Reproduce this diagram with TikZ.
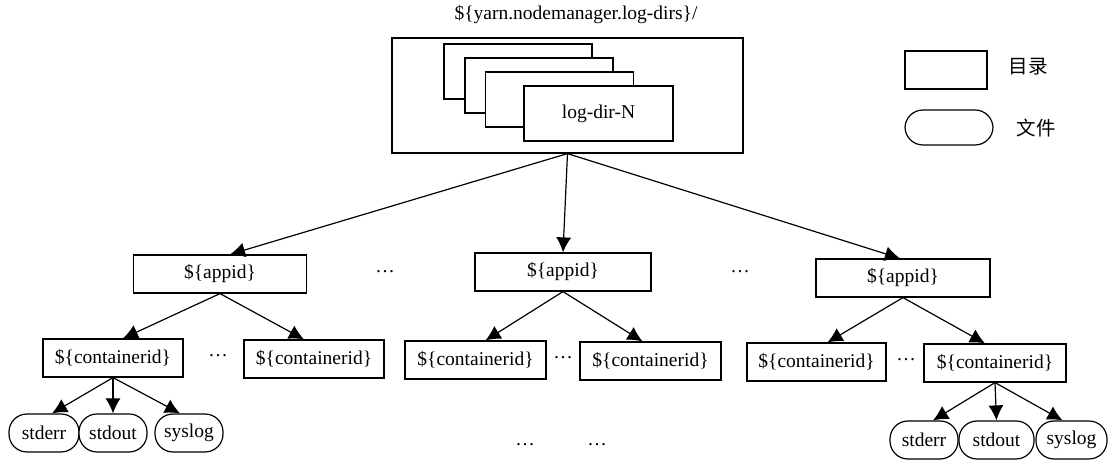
\documentclass[tikz,border=0pt]{standalone}
\usepackage{fontspec}
\setmainfont{Liberation Serif}
\newfontfamily\cjk{Noto Sans CJK SC}
\usetikzlibrary{arrows.meta}

\begin{document}
\begin{tikzpicture}[x=0.5pt,y=-0.5pt,
    font=\fontsize{9.75}{12}\selectfont,
    dirbox/.style={draw,line width=0.6pt,fill=white,inner sep=0pt,minimum height=19pt},
    filebox/.style={draw,line width=0.6pt,fill=white,inner sep=0pt,minimum height=19pt,
      minimum width=35pt,rounded corners=9pt},
    link/.style={line width=0.6pt,-{Latex[length=7.5pt,width=7.5pt]}}]
      \useasboundingbox (0,0) rectangle (1115,469);
      % Root directory
      \node (title) at (576,15) {\$\{yarn.nodemanager.log-dirs\}/};
      \node[dirbox,minimum width=175.5pt,minimum height=57.5pt] (root) at (567.5,95.5) {};
      \node[dirbox,minimum width=74pt,minimum height=27.5pt] (ld1) at (518,71.5) {};
      \node[dirbox,minimum width=74pt,minimum height=27.5pt] (ld2) at (539,85.5) {};
      \node[dirbox,minimum width=74pt,minimum height=27.5pt] (ld3) at (559.5,99.5) {};
      \node[dirbox,minimum width=74.5pt,minimum height=27.5pt] (ldN) at (598.5,113.5) {log-dir-N};
      % Legend
      \node[dirbox,minimum width=41pt] (legdir) at (946,70) {};
      \node[filebox,minimum width=44pt,minimum height=17.5pt] (legfile) at (949,127.5) {};
      \node (legdirtext) at (1028,67) {\cjk 目录};
      \node (legfiletext) at (1036,128) {\cjk 文件};
      % Application directories
      \node[dirbox,minimum width=86.5pt] (app1) at (220,274) {\$\{appid\}};
      \node[dirbox,minimum width=88pt] (app2) at (563,272) {\$\{appid\}};
      \node[dirbox,minimum width=87pt] (app3) at (903,278) {\$\{appid\}};
      \node (appdots1) at (385,272) {\dots};
      \node (appdots2) at (740,272) {\dots};
      % Container directories
      \node[dirbox,minimum width=70pt] (cont1) at (113,358) {\$\{containerid\}};
      \node[dirbox,minimum width=70pt] (cont2) at (314,359) {\$\{containerid\}};
      \node[dirbox,minimum width=70.5pt] (cont3) at (475.5,360) {\$\{containerid\}};
      \node[dirbox,minimum width=70.5pt] (cont4) at (650.5,361) {\$\{containerid\}};
      \node[dirbox,minimum width=69.5pt] (cont5) at (816.5,362) {\$\{containerid\}};
      \node[dirbox,minimum width=71pt] (cont6) at (995,363) {\$\{containerid\}};
      \node (contdots1) at (218,356) {\dots};
      \node (contdots2) at (563,358) {\dots};
      \node (contdots3) at (906,360) {\dots};
      % Log files
      \node[filebox] (err1) at (44,433) {stderr};
      \node[filebox,minimum width=34pt] (out1) at (113,433) {stdout};
      \node[filebox,minimum width=34pt] (sys1) at (189,433) {syslog};
      \node[filebox,minimum width=34pt] (err6) at (924,440) {stderr};
      \node[filebox,minimum width=37.5pt] (out6) at (996.5,440) {stdout};
      \node[filebox,minimum width=35.5pt] (sys6) at (1071.5,440) {syslog};
      \node (filedots1) at (525,445) {\dots};
      \node (filedots2) at (597,445) {\dots};
      % Arrows
      \draw[link] (root.south) -- ([xshift=5pt]app1.north);
      \draw[link] (root.south) -- (app2.north);
      \draw[link] (root.south) -- ([xshift=-1.5pt]app3.north);
      \draw[link] (app1.south) -- ([xshift=5pt]cont1.north);
      \draw[link] (app1.south) -- ([xshift=-5pt]cont2.north);
      \draw[link] (app2.south) -- ([xshift=5pt]cont3.north);
      \draw[link] (app2.south) -- ([xshift=-4pt]cont4.north);
      \draw[link] (app3.south) -- ([xshift=5.5pt]cont5.north);
      \draw[link] (app3.south) -- ([xshift=-5pt]cont6.north);
      \draw[link] (cont1.south) -- ([xshift=4pt]err1.north);
      \draw[link] (cont1.south) -- (out1.north);
      \draw[link] (cont1.south) -- ([xshift=-4.5pt]sys1.north);
      \draw[link] (cont6.south) -- ([xshift=4.5pt]err6.north);
      \draw[link] (cont6.south) -- (out6.north);
      \draw[link] (cont6.south) -- ([xshift=-4.5pt]sys6.north);
    \end{tikzpicture}
\end{document}
